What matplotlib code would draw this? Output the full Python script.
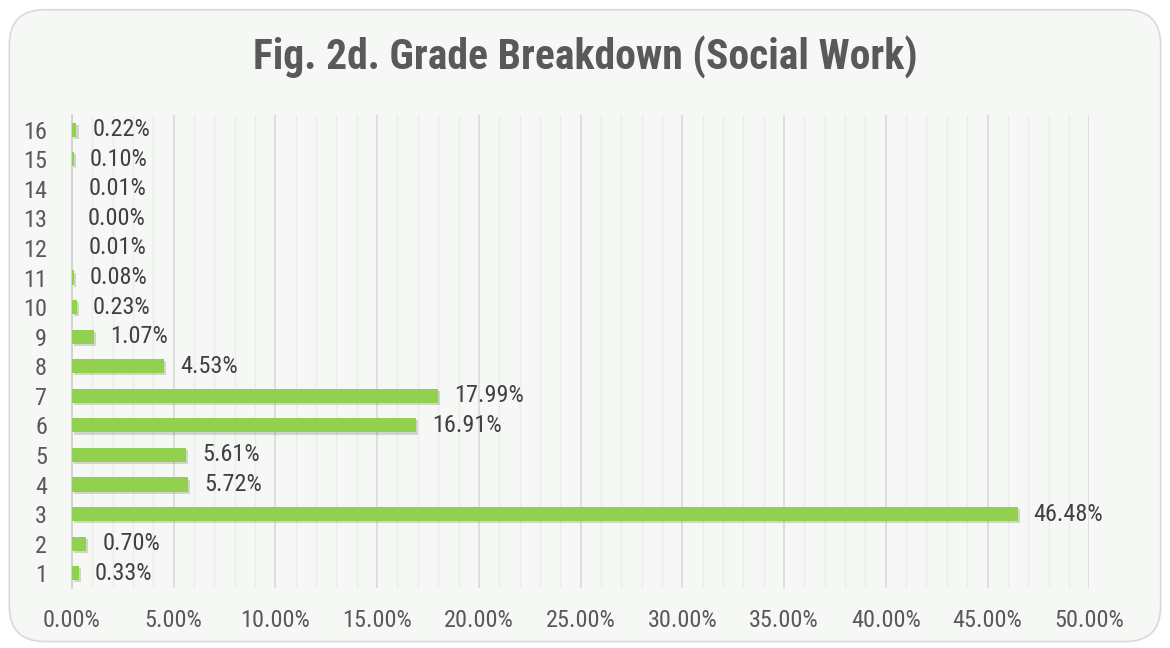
import matplotlib.pyplot as plt
import matplotlib.patheffects as pe
from matplotlib.patches import FancyBboxPatch
from matplotlib.ticker import MultipleLocator, FuncFormatter

grades = list(range(1, 17))
shares = [0.33, 0.70, 46.48, 5.72, 5.61, 16.91, 17.99, 4.53, 1.07, 0.23, 0.08, 0.01, 0.00, 0.01, 0.10, 0.22]

plt.rcParams["font.family"] = ["Roboto Condensed", "Carlito", "DejaVu Sans"]

fig = plt.figure(figsize=(11.7, 6.48), dpi=100)
fig.patch.set_facecolor("white")
bg = FancyBboxPatch((0.008, 0.01), 0.984, 0.975, boxstyle="round,pad=0,rounding_size=0.03",
                    transform=fig.transFigure, facecolor="#F5F8F4", edgecolor="#D9D9D9",
                    linewidth=1.2, mutation_aspect=11.7 / 6.48, zorder=-10)
fig.patches.append(bg)

ax = fig.add_axes([0.0615, 0.0926, 0.8695, 0.73])
ax.set_facecolor("none")
ax.set_zorder(2)

bars = ax.barh(grades, shares, height=0.48, color="#92D050", zorder=3,
               path_effects=[pe.SimplePatchShadow(offset=(1.5, -1.5), alpha=0.18), pe.Normal()])
for y, v in zip(grades, shares):
    ax.annotate(f"{v:.2f}%", (v, y), xytext=(11.5, 0), textcoords="offset points",
                va="center", ha="left", fontsize=17.5, color="#404040", zorder=4)

ax.set_xlim(0, 50)
ax.set_ylim(0.5, 16.5)
ax.xaxis.set_major_locator(MultipleLocator(5))
ax.xaxis.set_minor_locator(MultipleLocator(1))
ax.xaxis.set_major_formatter(FuncFormatter(lambda x, p: f"{x:.2f}%"))
ax.set_yticks(grades)
ax.grid(axis="x", which="major", color="#D9D9D9", linewidth=1.2, zorder=0)
ax.grid(axis="x", which="minor", color="#ECECEC", linewidth=1.0, zorder=0)
ax.tick_params(axis="both", which="both", length=0, labelsize=17.5, labelcolor="#595959")
ax.tick_params(axis="x", pad=15)
ax.tick_params(axis="y", pad=18)
for s in ["top", "right", "bottom"]:
    ax.spines[s].set_visible(False)
ax.spines["left"].set_color("#D0D0D0")
ax.spines["left"].set_linewidth(1.2)

fig.text(0.5, 0.912, "Fig. 2d. Grade Breakdown (Social Work)", ha="center", va="center",
         fontsize=30, fontweight="bold", color="#595959")

fig.savefig("out.png", dpi=100, facecolor=fig.get_facecolor())
